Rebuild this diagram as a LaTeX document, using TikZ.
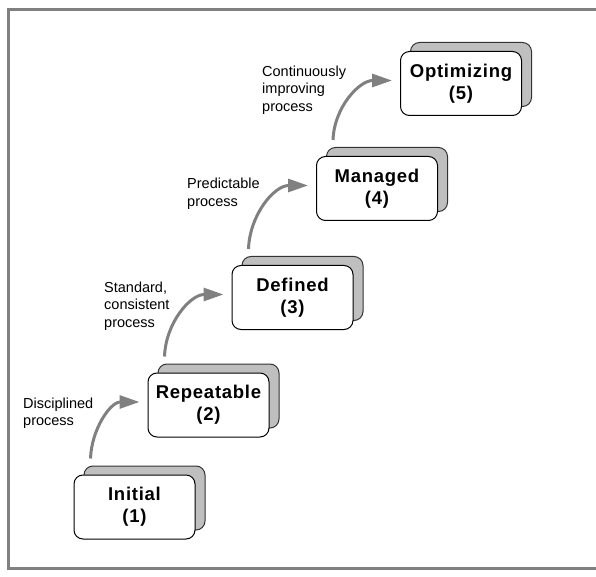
\documentclass[tikz,border=0pt]{standalone}
\usepackage{fontspec}
\setmainfont{Liberation Sans}
\newfontfamily\stagefont{Liberation Sans}[LetterSpace=4]
\usetikzlibrary{shadows,arrows.meta}
\tikzset{
  stage/.style    = {shape=rectangle, rounded corners=9pt,
                     draw, line width=1pt, fill=white,
                     align=center, inner sep=0pt,
                     minimum width=121pt, minimum height=64pt,
                     font=\stagefont\fontsize{18.5}{22}\selectfont\bfseries,
                     copy shadow={shadow xshift=10pt, shadow yshift=9pt,
                                  fill=gray!50, draw=black!80, line width=1pt}},
  note/.style     = {align=left, anchor=west, inner sep=0pt,
                     font=\fontsize{14.5}{17.5}\selectfont},
  stagearrow/.style = {draw=gray, line width=3pt,
                     -{Triangle[length=20pt,width=13pt]}}
}
\begin{document}
\begin{tikzpicture}[x=1pt, y=1pt]
  \useasboundingbox (0,0) rectangle (596,576);
  \draw [gray, line width=3pt] (596,566) -- (8,566) -- (8,8) -- (596,8);

  % the five maturity levels
  \node [stage] (init) at (134.5, 69)   {Initial\\(1)};
  \node [stage] (rep)  at (208.5, 171)  {Repeatable\\(2)};
  \node [stage] (def)  at (292.5, 278.5) {Defined\\(3)};
  \node [stage] (man)  at (377, 387.5)  {Managed\\(4)};
  \node [stage] (opt)  at (461, 492.5)  {Optimizing\\(5)};

  % arrows between levels
  \foreach \lo/\hi in {init/rep, rep/def, def/man, man/opt}
  {
    \coordinate (\lo-start) at ([shift={(17pt,16pt)}]\lo.north west);
    \coordinate (\hi-tip)   at ([shift={(-8pt,3pt)}]\hi.west);
    \draw [stagearrow] (\lo-start) to[out=88, in=180] (\hi-tip);
  }

  % process labels
  \node [note] (disc) at (23, 163)  {Disciplined\\process};
  \node [note] (stan) at (104, 270) {Standard,\\consistent\\process};
  \node [note] (pred) at (187, 382) {Predictable\\process};
  \node [note] (cont) at (262, 486) {Continuously\\improving\\process};
\end{tikzpicture}
\end{document}
